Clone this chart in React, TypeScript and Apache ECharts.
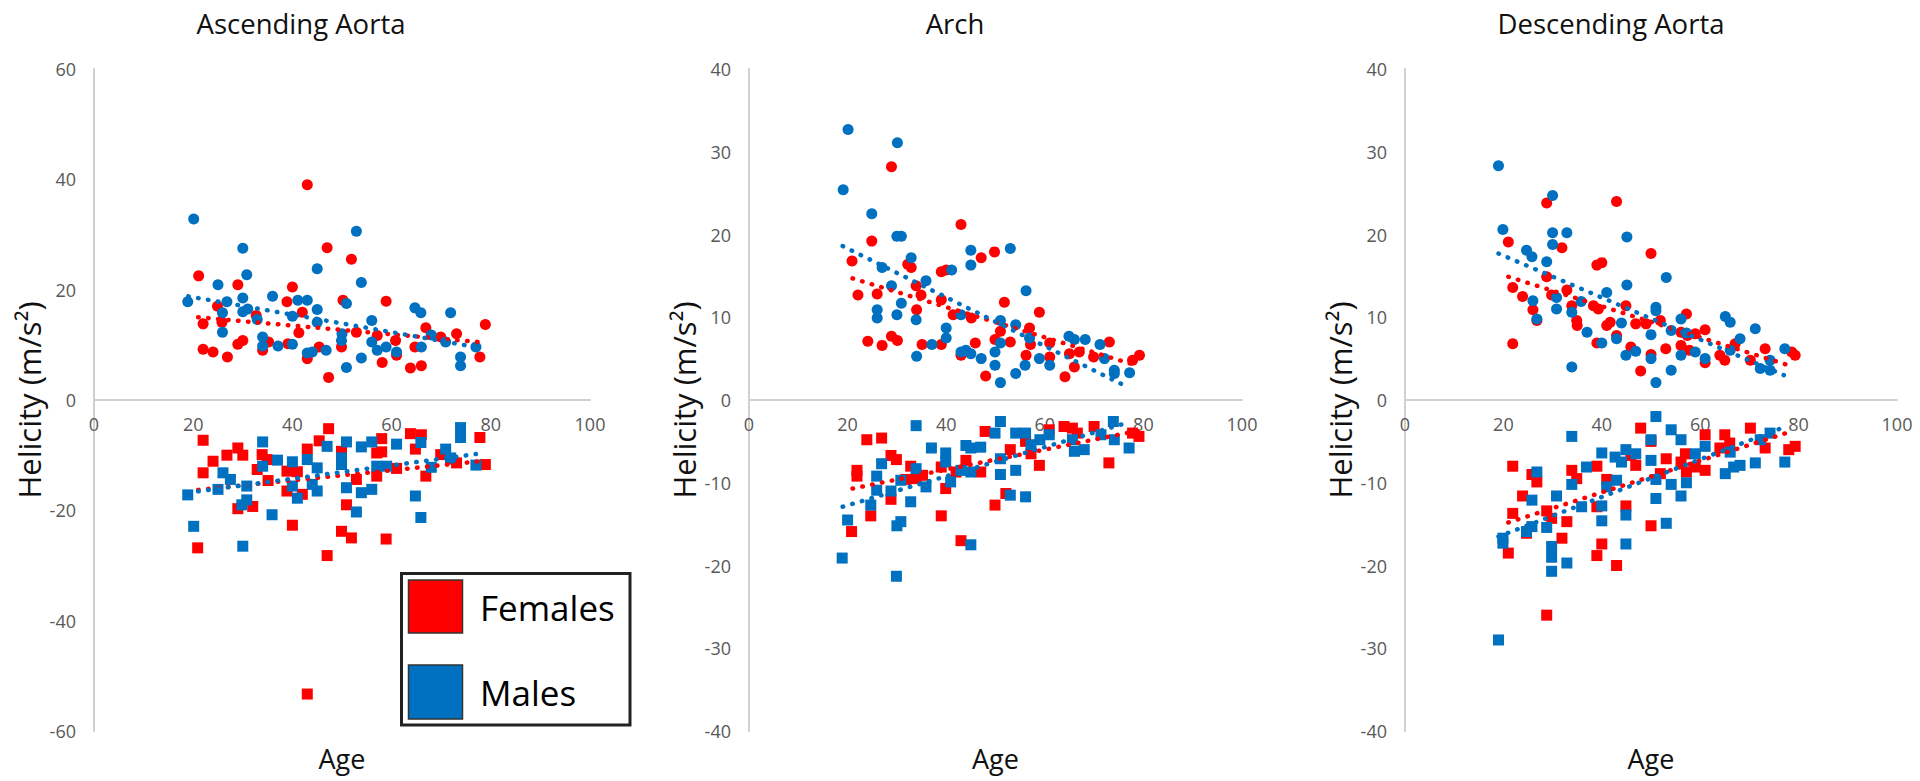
import { useEffect, useRef } from "react";
import * as echarts from "echarts";

type P = [number, number];

// ---------- Ascending Aorta ----------
const ascFemalePos: P[] = [[43,39],[21.1,22.5],[29,20.9],[40,20.5],[47,27.6],[51.9,25.5],[58.9,17.9],[50.2,18.1],[24.9,17],[22,13.8],[25.8,14.1],[22,9.2],[24,8.7],[26.9,7.8],[29,10.1],[30,10.8],[32.7,15.3],[34,9],[35.2,10.5],[38.9,17.8],[39.1,10.2],[42,15.9],[41.3,12.2],[43,7.5],[45.4,9.6],[47.3,4.1],[49.9,9.6],[52.9,12.3],[57.1,11.7],[58.1,6.8],[61,8.1],[60.8,10.8],[63.8,5.8],[66,6.2],[66.9,13.1],[69.9,11.4],[73.1,12],[78.9,13.7],[77.8,7.8],[64.7,9.6]];
const ascMalePos: P[] = [[20.1,32.8],[30,27.5],[30.8,22.7],[25,20.9],[18.9,17.8],[30,18.5],[26.8,17.8],[25.9,15.8],[25.9,12.3],[30,16],[31,16.5],[32.9,14.6],[34,11.4],[34,9.8],[37.1,9.8],[36,18.8],[41.1,18.1],[43,18.1],[40,15.2],[40,10.1],[45,23.8],[45,16.4],[45,14.1],[43,8.5],[44,8.7],[46.8,9],[52.9,30.6],[53.9,21.3],[50.9,17.5],[50,12],[49.9,10.8],[50.9,5.9],[53.9,7.6],[56,14.4],[56,10.5],[57.1,9],[58.9,9.6],[61,8.7],[64.7,16.7],[65.9,15.8],[66,9.6],[68,11.8],[70.9,10.5],[71.9,15.8],[73.9,7.8],[73.9,6.2],[77,9.6]];
const ascFemaleNeg: P[] = [[22,-7.3],[24,-11.1],[22,-13.2],[29,-8.7],[26.8,-10],[30,-10],[33.9,-9.9],[34.9,-10.8],[32.9,-12.6],[35.1,-14.6],[29,-19.7],[32,-19.3],[20.9,-26.8],[38.9,-12.9],[41,-13],[38.9,-16.5],[42,-17.1],[40,-22.7],[43,-8.9],[47.3,-5.2],[45.4,-7.4],[49.9,-9.3],[47,-28.2],[49.9,-23.8],[51.9,-25],[50.9,-19],[52.9,-14.4],[58,-7],[57,-9.6],[58,-9.4],[57,-13.8],[58.9,-25.2],[61,-12.4],[63.8,-6.1],[66,-6.3],[64.8,-8.9],[66.9,-13.8],[69.9,-9.9],[73.1,-11.4],[77.8,-6.8],[78.9,-11.7],[71.9,-10.7],[43,-53.3]];
const ascMaleNeg: P[] = [[18.9,-17.2],[20.1,-22.9],[30,-26.5],[25,-16.2],[26,-13.2],[27.5,-14.4],[30.8,-15.6],[29.8,-19],[30.8,-18.1],[34,-7.6],[34,-12],[37,-10.9],[35.9,-20.8],[40,-11.2],[40,-15.6],[41,-17.8],[43,-10.8],[44,-15.3],[45,-12.3],[45,-16.5],[47,-8.4],[50.9,-7.6],[49.9,-10.5],[49.9,-11.7],[50.9,-15.9],[52.9,-20.3],[53.9,-16.8],[56,-16.2],[53.9,-8.5],[56,-7.6],[57,-12],[61,-8],[59,-12],[64.8,-17.4],[65.9,-21.3],[65.9,-7.7],[68,-12.2],[70.9,-8.9],[71.9,-10.5],[73.9,-5],[73.9,-6.8],[77,-11.8]];
const ascFemalePosTrend: P[] = [[21,15],[79,10.4]];
const ascMalePosTrend: P[] = [[19,18.8],[77,9.6]];
const ascFemaleNegTrend: P[] = [[21,-16.3],[79,-11]];
const ascMaleNegTrend: P[] = [[19,-16.8],[77,-9.8]];

// ---------- Arch ----------
const archFemalePos: P[] = [[28.9,28.2],[43,21.2],[24.9,19.2],[20.9,16.8],[49.8,17.9],[47.1,17.2],[32.2,16.4],[32.9,16],[39,15.5],[40,15.7],[22.1,12.7],[26,12.8],[33.9,13.8],[34.9,12.7],[39,12.1],[34,10.9],[41.4,10.3],[45.1,9.9],[24.1,7.1],[27,6.6],[28.9,7.7],[30.1,7.2],[35.1,6.7],[39,6.7],[43,5.4],[45.9,6.9],[48,2.9],[51.8,11.8],[58.9,10.6],[51,8.3],[49.9,7.3],[53,7],[56.9,8.7],[57.1,6.7],[56.2,5.4],[61,6.9],[61,5.2],[65,5.6],[67,5.8],[66,4],[64.1,2.8],[69.9,5.2],[73.1,7],[77.8,4.8],[79.2,5.4]];
const archMalePos: P[] = [[20.1,32.7],[30.1,31.1],[19.1,25.4],[24.9,22.5],[30,19.8],[30.9,19.8],[32.9,17.2],[27,16],[28.9,13.8],[30.9,11.7],[26,10.9],[26,9.9],[30,10.3],[33.9,9.7],[34,5.3],[37.1,6.7],[35.9,14.4],[41.1,15.7],[45,18.1],[45,16.3],[40,8.7],[40,7.5],[43,5.8],[44,6],[45,5.6],[47.1,5],[43,10.3],[53,18.3],[56.2,13.2],[51,9.6],[54.1,9.1],[51,6.9],[49.9,5.8],[49.9,4.2],[51,2.1],[54.1,3.2],[56,4.2],[56.9,7.5],[58.9,5],[61,4.2],[64.9,7.7],[66,7.3],[68.2,7.3],[71.2,6.7],[72.1,5],[74.1,3.6],[74.1,3.2],[77.2,3.3]];
const archFemaleNeg: P[] = [[23.9,-4.8],[26.9,-4.6],[21.9,-8.5],[21.9,-9.2],[20.8,-15.9],[24.7,-14],[28.8,-6.7],[29.9,-7.2],[28.8,-12],[32.8,-8],[31.8,-9.6],[33.9,-9.5],[35.2,-9.1],[39,-14],[39.9,-10.7],[39,-8.1],[42,-8.7],[43,-17],[44,-7.3],[47,-8.7],[47.9,-3.8],[49.9,-12.7],[52.1,-11.3],[53,-6],[56.1,-5],[57.2,-6.5],[58.9,-7.9],[60.9,-3.6],[63.9,-3.2],[65.6,-3.4],[66.6,-4],[70,-3.2],[73,-7.6],[77.8,-4],[79.1,-4.4]];
const archMaleNeg: P[] = [[18.9,-19.1],[20,-14.5],[29.9,-21.3],[30,-15.2],[30.8,-14.7],[24.7,-12.7],[25.9,-10.9],[25.9,-9.2],[26.9,-7.7],[28.8,-11],[30.8,-9.7],[33.9,-8.3],[32.8,-12.3],[35.9,-10.5],[33.9,-3.1],[37,-5.8],[39.9,-6.4],[39.9,-7.5],[40.9,-9.9],[43,-8.5],[44,-5.5],[45,-5.8],[47,-5.7],[45,-8.7],[45,-17.5],[49.9,-4],[51,-2.6],[51,-7.1],[51,-9],[54.1,-8.5],[53,-11.5],[56.1,-11.7],[54.1,-4],[56.1,-4],[57.2,-5.4],[59,-4.8],[60.9,-4.2],[65.6,-4.8],[66,-6.2],[68,-6],[71.4,-4.2],[74.1,-4.8],[73.9,-2.6],[77.1,-5.8]];
const archFemalePosTrend: P[] = [[21,14.7],[79,4.1]];
const archMalePosTrend: P[] = [[19,18.6],[77,1.5]];
const archFemaleNegTrend: P[] = [[21,-10.7],[79,-3.7]];
const archMaleNegTrend: P[] = [[19,-12.9],[77,-2.7]];

// ---------- Descending Aorta ----------
const descFemalePos: P[] = [[28.8,23.8],[43,24],[21,19.1],[31.9,18.4],[50,17.7],[39,16.3],[40,16.6],[21.9,13.6],[23.9,12.5],[26,10.9],[26.8,9.6],[28.8,14.9],[29.8,12.7],[32.9,13.3],[33.9,11.4],[34.9,9.6],[35,9],[38.3,11.4],[39.3,11],[41,9],[41.7,9.4],[43,7.8],[39,6.9],[44.9,11.4],[46.9,9.2],[45.9,6.4],[49,9.2],[51.9,9.6],[50,5.5],[47.9,3.5],[53,6.2],[57.2,10.4],[56.1,8.2],[57.4,7.8],[56.1,6.6],[57.8,6],[59,8],[61,8.5],[61,4.5],[64,5.4],[65,4.8],[67.1,6.8],[70.2,4.8],[73.2,6.2],[78.6,5.8],[79.3,5.4],[21.9,6.8]];
const descMalePos: P[] = [[19,28.3],[30,24.7],[19.9,20.6],[30,20.2],[32.9,20.2],[30,18.8],[45.1,19.7],[24.7,18.1],[25.8,17.3],[28.8,16.7],[45.1,13.9],[53.1,14.8],[41,13],[35.8,11.9],[30.8,12.4],[26,12],[30.8,11],[26.8,9.8],[33.9,10.6],[33.9,4],[37,8.2],[40,6.9],[43,7.4],[44,9.3],[44.9,5.4],[46.9,5.9],[51,11.2],[51,10.8],[50,7.9],[50,5],[51,2.1],[54.1,8.4],[54.1,3.6],[56.1,9.8],[56.1,5.4],[57.2,8.1],[59,5.8],[61,5],[65.1,10.1],[66.1,9.4],[66.1,6],[68.1,7.4],[71.2,8.6],[72.2,3.8],[74.2,3.6],[74.2,4.8],[77.2,6.2]];
const descFemaleNeg: P[] = [[21.9,-8],[21,-18.5],[21.9,-13.7],[23.9,-11.6],[24.7,-16.1],[25.8,-9],[26.8,-9.9],[28.8,-13.4],[29.8,-14.3],[28.8,-26],[31.9,-16.7],[32.9,-14.7],[33.9,-8.5],[34.9,-9.5],[39,-8],[39,-12.9],[40,-17.4],[39,-18.8],[41,-9.6],[43,-20],[44.9,-12.8],[45.9,-6.7],[46.9,-7.9],[47.9,-3.4],[50,-5],[50,-15.2],[51.9,-8.9],[53.1,-7.1],[56.1,-7.5],[57,-6.5],[57.2,-8.7],[59,-8.1],[61,-4.2],[61,-8.5],[64,-5.8],[65,-4.2],[66,-5.2],[70.2,-3.4],[73.2,-5.8],[78,-6],[79.3,-5.6]];
const descMaleNeg: P[] = [[19,-29],[19.9,-16.7],[19.9,-17.3],[24.7,-15.9],[25.8,-15.3],[26.8,-8.7],[25.8,-12.1],[28.8,-15.4],[29.8,-17.7],[29.8,-19],[29.8,-20.7],[32.9,-19.7],[30.8,-11.6],[33.9,-4.4],[33.9,-10.2],[35.9,-12.9],[36.9,-8.1],[40,-6.4],[40,-12.8],[40,-14.6],[41,-10.5],[43,-9.7],[42.7,-6.9],[44,-7.5],[44.9,-6],[46.9,-6.5],[44.9,-13.9],[44.9,-17.4],[50,-4.8],[51,-2],[50,-7.3],[51,-11.9],[51,-9.6],[53.1,-14.9],[54.1,-3.6],[56.1,-4.8],[54.1,-10.2],[56.1,-11.6],[57.2,-10],[59,-6.5],[61,-5.6],[65.1,-8.9],[66.1,-6.3],[66.8,-8.1],[68.1,-7.9],[71.2,-7.6],[72.2,-4.8],[74.2,-4],[77.2,-7.5]];
const descFemalePosTrend: P[] = [[21,14.9],[79,4]];
const descMalePosTrend: P[] = [[19,17.7],[77,3]];
const descFemaleNegTrend: P[] = [[21,-14.8],[79,-3.7]];
const descMaleNegTrend: P[] = [[19,-16.5],[77,-3.3]];

// ---------- labels ----------
const panelTitles = ["Ascending Aorta", "Arch", "Descending Aorta"];
const xAxisTitle = "Age";
const yAxisTitle = "Helicity (m/s²)";
const legendLabels = ["Females", "Males"];
const yRanges: [number, number, number][] = [[-60, 60, 20], [-40, 40, 10], [-40, 40, 10]];

const RED = "#FF0000";
const BLUE = "#0070C0";
const FONT = "'Open Sans', 'Noto Sans', sans-serif";

const panels = [
  { fPos: ascFemalePos, mPos: ascMalePos, fNeg: ascFemaleNeg, mNeg: ascMaleNeg, tr: [ascFemalePosTrend, ascFemaleNegTrend, ascMalePosTrend, ascMaleNegTrend] },
  { fPos: archFemalePos, mPos: archMalePos, fNeg: archFemaleNeg, mNeg: archMaleNeg, tr: [archFemalePosTrend, archFemaleNegTrend, archMalePosTrend, archMaleNegTrend] },
  { fPos: descFemalePos, mPos: descMalePos, fNeg: descFemaleNeg, mNeg: descMaleNeg, tr: [descFemalePosTrend, descFemaleNegTrend, descMalePosTrend, descMaleNegTrend] },
];

const gridBoxes = [
  { left: 94, width: 496 },
  { left: 749, width: 493 },
  { left: 1405, width: 492 },
];
const GRID_TOP = 69;
const GRID_H = 662;

export default function App() {
  const ref = useRef<HTMLDivElement>(null);
  useEffect(() => {
    const chart = echarts.init(ref.current!, null, { renderer: "svg" });
    const axisLine = { show: true, lineStyle: { color: "#D0D0D0", width: 2 } };
    const tickLabel = { color: "#595959", fontSize: 18, fontFamily: FONT };

    const grid = gridBoxes.map((g) => ({ left: g.left, top: GRID_TOP, width: g.width, height: GRID_H }));
    const xAxis = gridBoxes.map((_, i) => ({
      gridIndex: i, type: "value", min: 0, max: 100, interval: 20, position: "bottom",
      offset: -GRID_H / 2,
      axisLine: { ...axisLine, onZero: false }, axisTick: { show: false }, splitLine: { show: false },
      axisLabel: { ...tickLabel, margin: 15 },
    }));
    const yAxis = yRanges.map((r, i) => ({
      gridIndex: i, type: "value", min: r[0], max: r[1], interval: r[2],
      axisLine: { ...axisLine, onZero: false }, axisTick: { show: false }, splitLine: { show: false },
      axisLabel: { ...tickLabel, margin: 18 },
      name: yAxisTitle, nameLocation: "middle", nameGap: 50,
      nameTextStyle: { fontSize: 31, color: "#111", fontFamily: FONT },
    }));

    const series: any[] = [];
    panels.forEach((p, i) => {
      const sc = (data: P[], color: string, symbol: string) => ({
        type: "scatter", xAxisIndex: i, yAxisIndex: i, data, symbol, symbolSize: 11,
        itemStyle: { color, opacity: 1 }, z: 2, silent: true,
      });
      series.push(sc(p.fPos, RED, "circle"), sc(p.fNeg, RED, "rect"), sc(p.mPos, BLUE, "circle"), sc(p.mNeg, BLUE, "rect"));
      p.tr.forEach((t, k) => {
        series.push({
          type: "line", xAxisIndex: i, yAxisIndex: i, data: t, showSymbol: false, symbol: "none", z: 3, silent: true,
          lineStyle: { color: k < 2 ? RED : BLUE, width: 4.5, type: [0.5, 9.5], cap: "round" },
        });
      });
    });

    const titleX = [301, 955, 1611];
    const ageX = gridBoxes.map((g) => g.left + g.width / 2);
    const graphic: any[] = [];
    panelTitles.forEach((t, i) => {
      graphic.push({ type: "text", x: titleX[i], y: 23, style: { text: t, fontSize: 27.5, fontFamily: FONT, fill: "#111", align: "center", verticalAlign: "middle" } });
      graphic.push({ type: "text", x: ageX[i], y: 758, style: { text: xAxisTitle, fontSize: 27, fontFamily: FONT, fill: "#111", align: "center", verticalAlign: "middle" } });
    });
    graphic.push({ type: "rect", shape: { x: 401.5, y: 573.5, width: 228.5, height: 151.5 }, style: { fill: "#fff", stroke: "#222", lineWidth: 3 }, z: 10 });
    graphic.push({ type: "rect", shape: { x: 408.5, y: 580, width: 54, height: 53 }, style: { fill: RED, stroke: "#333", lineWidth: 1.5 }, z: 11 });
    graphic.push({ type: "rect", shape: { x: 408.5, y: 665, width: 54, height: 54 }, style: { fill: BLUE, stroke: "#333", lineWidth: 1.5 }, z: 11 });
    graphic.push({ type: "text", x: 480, y: 607, style: { text: legendLabels[0], fontSize: 35, fontFamily: FONT, fill: "#000", align: "left", verticalAlign: "middle" }, z: 11 });
    graphic.push({ type: "text", x: 480, y: 692, style: { text: legendLabels[1], fontSize: 35, fontFamily: FONT, fill: "#000", align: "left", verticalAlign: "middle" }, z: 11 });

    chart.setOption({ animation: false, backgroundColor: "#fff", grid, xAxis, yAxis, series, graphic });
    return () => chart.dispose();
  }, []);
  return <div ref={ref} style={{ position: "fixed", left: 0, top: 0, width: 1920, height: 781, background: "#fff" }} />;
}
